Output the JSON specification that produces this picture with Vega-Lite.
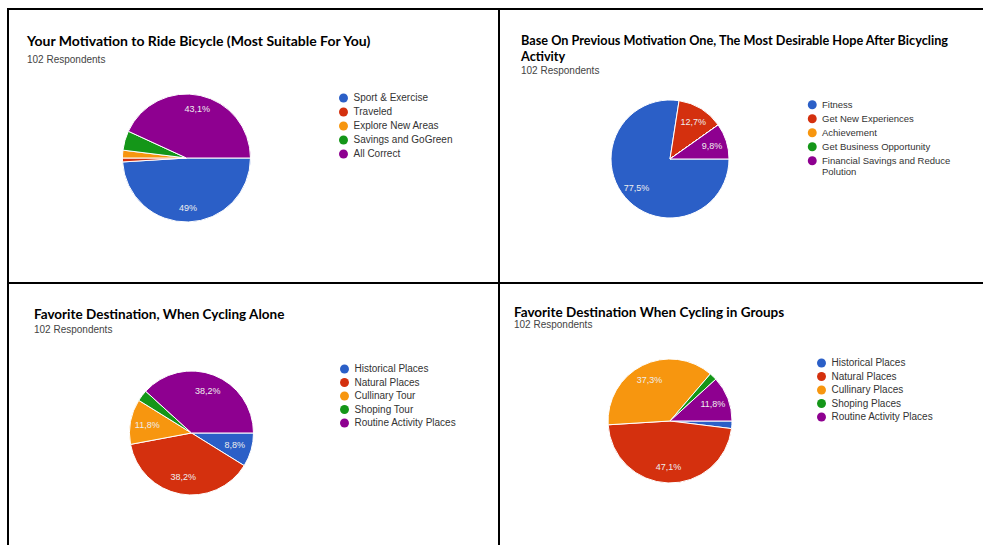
{
  "$schema": "https://vega.github.io/schema/vega-lite/v6.json",
  "padding": {"left": 7, "top": 8, "right": 0, "bottom": 0},
  "background": "white",
  "config": {
    "font": "Liberation Sans",
    "view": {"stroke": "black", "strokeWidth": 2},
    "title": {"anchor": "start", "frame": "group", "font": "Lato", "fontWeight": "bold", "fontSize": 13.5, "color": "#000000", "subtitleFont": "Liberation Sans", "subtitleFontSize": 10, "subtitleColor": "#444444"},
    "legend": {"orient": "none", "title": null, "symbolType": "circle", "symbolSize": 80, "symbolStrokeWidth": 0, "labelFontSize": 10, "labelColor": "#333333", "labelFont": "Liberation Sans", "rowPadding": 4, "labelOffset": 5, "labelLimit": 300}
  },
  "columns": 2,
  "spacing": 0,
  "bounds": "flush",
  "resolve": {"scale": {"color": "independent", "x": "independent", "y": "independent"}, "legend": {"color": "independent"}},
  "concat": [
    {
      "width": 491, "height": 274,
      "title": {"text": "Your Motivation to Ride Bicycle (Most Suitable For You)", "subtitle": "102 Respondents", "offset": -56, "dx": 19, "fontSize": 14, "subtitlePadding": 6},
      "data": {"values": [
        {"cat": "Sport & Exercise", "n": 50, "k": 1, "label": "49%"},
        {"cat": "Traveled", "n": 1, "k": 2, "label": ""},
        {"cat": "Explore New Areas", "n": 2, "k": 3, "label": ""},
        {"cat": "Savings and GoGreen", "n": 5, "k": 4, "label": ""},
        {"cat": "All Correct", "n": 44, "k": 5, "label": "43,1%"}
      ]},
      "encoding": {
        "theta": {"field": "n", "type": "quantitative", "stack": true, "scale": {"range": [1.5707963, 7.8539816]}},
        "order": {"field": "k", "type": "quantitative"},
        "x": {"datum": 0.3635, "type": "quantitative", "scale": {"domain": [0, 1]}, "axis": null},
        "y": {"datum": 0.5438, "type": "quantitative", "scale": {"domain": [0, 1], "reverse": true}, "axis": null}
      },
      "layer": [
        {"mark": {"type": "arc", "outerRadius": 64, "stroke": "white", "strokeWidth": 1},
         "encoding": {"color": {"field": "cat", "type": "nominal",
           "scale": {"domain": ["Sport & Exercise", "Traveled", "Explore New Areas", "Savings and GoGreen", "All Correct"], "range": ["#2b5fc7", "#d4300e", "#f7960f", "#149618", "#8e0090"]},
           "legend": {"legendX": 330.5, "legendY": 84}}}},
        {"mark": {"type": "text", "radius": 50, "fontSize": 9, "fill": "#eeeeee"},
         "encoding": {"text": {"field": "label"}, "detail": {"field": "cat"}}}
      ]
    },
    {
      "width": 491, "height": 274,
      "title": {"text": ["Base On Previous Motivation One, The Most Desirable Hope After Bicycling", "Activity"], "subtitle": "102 Respondents", "offset": -67, "dx": 22, "fontSize": 12.7, "lineHeight": 16, "subtitlePadding": 2},
      "data": {"values": [
        {"cat": "Fitness", "n": 79, "k": 1, "label": "77,5%"},
        {"cat": "Get New Experiences", "n": 13, "k": 2, "label": "12,7%"},
        {"cat": "Achievement", "n": 0, "k": 3, "label": ""},
        {"cat": "Get Business Opportunity", "n": 0, "k": 4, "label": ""},
        {"cat": "Financial Savings and Reduce Polution", "n": 10, "k": 5, "label": "9,8%"}
      ]},
      "encoding": {
        "theta": {"field": "n", "type": "quantitative", "stack": true, "scale": {"range": [1.5707963, 7.8539816]}},
        "order": {"field": "k", "type": "quantitative"},
        "x": {"datum": 0.3483, "type": "quantitative", "scale": {"domain": [0, 1]}, "axis": null},
        "y": {"datum": 0.5474, "type": "quantitative", "scale": {"domain": [0, 1], "reverse": true}, "axis": null}
      },
      "layer": [
        {"mark": {"type": "arc", "outerRadius": 59, "stroke": "white", "strokeWidth": 1},
         "encoding": {"color": {"field": "cat", "type": "nominal",
           "scale": {"domain": ["Fitness", "Get New Experiences", "Achievement", "Get Business Opportunity", "Financial Savings and Reduce Polution"], "range": ["#2b5fc7", "#d4300e", "#f7960f", "#149618", "#8e0090"]},
           "legend": {"legendX": 308.5, "legendY": 91, "labelFontSize": 9.5, "rowPadding": 3, "labelExpr": "datum.label == 'Financial Savings and Reduce Polution' ? ['Financial Savings and Reduce', 'Polution'] : datum.label"}}}},
        {"mark": {"type": "text", "radius": 44, "fontSize": 9, "fill": "#eeeeee"},
         "encoding": {"text": {"field": "label"}, "detail": {"field": "cat"}}}
      ]
    },
    {
      "width": 491, "height": 274,
      "title": {"text": "Favorite Destination, When Cycling Alone", "subtitle": "102  Respondents", "offset": -52, "dx": 26, "subtitlePadding": 4},
      "data": {"values": [
        {"cat": "Historical Places", "n": 9, "k": 1, "label": "8,8%"},
        {"cat": "Natural Places", "n": 39, "k": 2, "label": "38,2%"},
        {"cat": "Cullinary Tour", "n": 12, "k": 3, "label": "11,8%"},
        {"cat": "Shoping Tour", "n": 3, "k": 4, "label": ""},
        {"cat": "Routine Activity Places", "n": 39, "k": 5, "label": "38,2%"}
      ]},
      "encoding": {
        "theta": {"field": "n", "type": "quantitative", "stack": true, "scale": {"range": [1.5707963, 7.8539816]}},
        "order": {"field": "k", "type": "quantitative"},
        "x": {"datum": 0.3737, "type": "quantitative", "scale": {"domain": [0, 1]}, "axis": null},
        "y": {"datum": 0.5474, "type": "quantitative", "scale": {"domain": [0, 1], "reverse": true}, "axis": null}
      },
      "layer": [
        {"mark": {"type": "arc", "outerRadius": 62, "stroke": "white", "strokeWidth": 1},
         "encoding": {"color": {"field": "cat", "type": "nominal",
           "scale": {"domain": ["Historical Places", "Natural Places", "Cullinary Tour", "Shoping Tour", "Routine Activity Places"], "range": ["#2b5fc7", "#d4300e", "#f7960f", "#149618", "#8e0090"]},
           "legend": {"legendX": 331.5, "legendY": 81, "rowPadding": 3.5}}}},
        {"mark": {"type": "text", "radius": 45, "fontSize": 9, "fill": "#eeeeee"},
         "encoding": {"text": {"field": "label"}, "detail": {"field": "cat"}}}
      ]
    },
    {
      "width": 491, "height": 274,
      "title": {"text": "Favorite Destination When Cycling in Groups", "subtitle": "102 Respondents", "offset": -47, "dx": 15, "subtitlePadding": 1},
      "data": {"values": [
        {"cat": "Historical Places", "n": 2, "k": 1, "label": ""},
        {"cat": "Natural Places", "n": 48, "k": 2, "label": "47,1%"},
        {"cat": "Cullinary Places", "n": 38, "k": 3, "label": "37,3%"},
        {"cat": "Shoping Places", "n": 2, "k": 4, "label": ""},
        {"cat": "Routine Activity Places", "n": 12, "k": 5, "label": "11,8%"}
      ]},
      "encoding": {
        "theta": {"field": "n", "type": "quantitative", "stack": true, "scale": {"range": [1.5707963, 7.8539816]}},
        "order": {"field": "k", "type": "quantitative"},
        "x": {"datum": 0.3483, "type": "quantitative", "scale": {"domain": [0, 1]}, "axis": null},
        "y": {"datum": 0.5036, "type": "quantitative", "scale": {"domain": [0, 1], "reverse": true}, "axis": null}
      },
      "layer": [
        {"mark": {"type": "arc", "outerRadius": 62, "stroke": "white", "strokeWidth": 1},
         "encoding": {"color": {"field": "cat", "type": "nominal",
           "scale": {"domain": ["Historical Places", "Natural Places", "Cullinary Places", "Shoping Places", "Routine Activity Places"], "range": ["#2b5fc7", "#d4300e", "#f7960f", "#149618", "#8e0090"]},
           "legend": {"legendX": 317.5, "legendY": 75, "rowPadding": 3.5}}}},
        {"mark": {"type": "text", "radius": 46, "fontSize": 9, "fill": "#eeeeee"},
         "encoding": {"text": {"field": "label"}, "detail": {"field": "cat"}}}
      ]
    }
  ]
}
